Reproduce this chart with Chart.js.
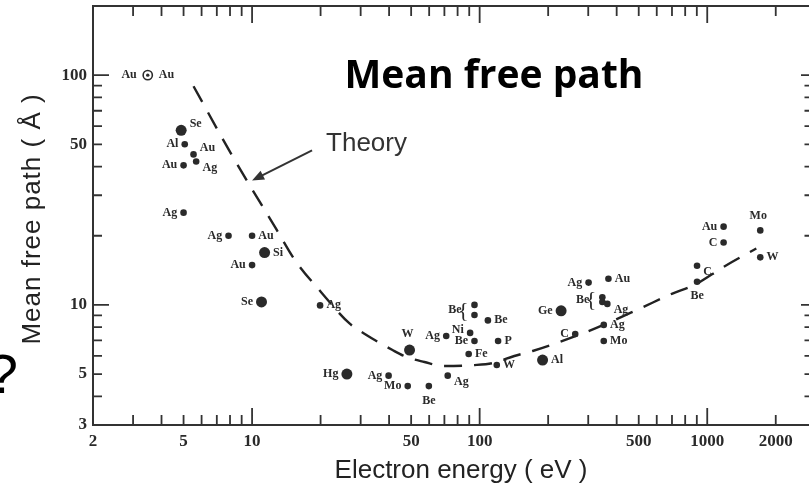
<!DOCTYPE html>
<html>
<head>
<meta charset="utf-8">
<script src="https://cdn.jsdelivr.net/npm/chart.js@4/dist/chart.umd.min.js"></script>
<style>
  html, body { margin: 0; padding: 0; background: #fff; }
</style>
</head>
<body>
<canvas id="mfpChart" width="809" height="495"></canvas>
<script>
// measured points: electron energy (eV) vs mean free path (Å)
const energies = [3.48, 4.88, 5.06, 5.53, 5.68, 5.0, 5.0, 7.88, 10.0, 11.35, 10.0, 11.0,
    19.9, 26.1, 39.8, 48.3, 49.2, 59.8, 72.4, 71.3, 90.8, 94.9, 94.9, 94.9, 108.7, 120.5,
    89.5, 118.9, 189, 228, 263, 301, 368, 346, 346, 364, 351, 351, 902, 902, 1180, 1180,
    1710, 1710];
const paths = [100, 57.5, 50.0, 45.2, 42.1, 40.5, 25.2, 20.0, 20.0, 16.9, 14.9, 10.3,
    9.95, 5.0, 4.92, 4.43, 6.36, 4.43, 4.92, 7.32, 7.55, 6.96, 10.0, 9.04, 8.56, 6.96,
    6.11, 5.47, 5.75, 9.42, 7.47, 12.5, 13.0, 10.8, 10.3, 10.1, 8.18, 6.96, 14.8, 12.6,
    21.9, 18.7, 21.1, 16.1];
const elements = ['Au', 'Se', 'Al', 'Au', 'Ag', 'Au', 'Ag', 'Ag', 'Au', 'Si', 'Au', 'Se',
    'Ag', 'Hg', 'Ag', 'Mo', 'W', 'Be', 'Ag', 'Ag', 'Ni', 'Be', 'Be', 'Be', 'Be', 'P',
    'Fe', 'W', 'Al', 'Ge', 'C', 'Ag', 'Au', 'Be', 'Be', 'Ag', 'Ag', 'Mo', 'C', 'Be',
    'Au', 'C', 'Mo', 'W'];

// where each element name sits around its dot
const labelSides = ['both', 'ru', 'l', 'ru', 'rd', 'l', 'l', 'l', 'r', 'r', 'l', 'l',
    'r', 'l', 'l', 'l', 't', 'b', 'rd', 'l', 'lu', 'l', 'brace', 'skip', 'r', 'r',
    'r', 'r', 'r', 'l', 'l', 'l', 'r', 'brace', 'skip', 'rd', 'r', 'r', 'rd', 'b',
    'l', 'l', 't', 'r'];
// dot style: small, big or ringed
const markerKinds = ['ring', 'big', 'small', 'small', 'small', 'small', 'small', 'small',
    'small', 'big', 'small', 'big', 'small', 'big', 'small', 'small', 'big', 'small',
    'small', 'small', 'small', 'small', 'small', 'small', 'small', 'small', 'small',
    'small', 'big', 'big', 'small', 'small', 'small', 'small', 'small', 'small', 'small',
    'small', 'small', 'small', 'small', 'small', 'small', 'small'];

// theory curve
const theoryEnergy = [5.53, 8.21, 12.8, 15.4, 20.2, 26.8, 31.8, 41.4, 47.7, 57.2, 68.7,
    94.9, 114, 142, 171, 224, 326, 513, 703, 878, 1189, 1643];
const theoryPath = [89.5, 44.3, 21.3, 15.7, 11.3, 8.3, 7.4, 6.36, 5.93, 5.64, 5.42,
    5.47, 5.58, 5.99, 6.30, 6.89, 7.94, 9.7, 11.2, 12.2, 14.7, 17.6];

const xTickValues = [2, 3, 4, 5, 6, 7, 8, 9, 10, 20, 30, 40, 50, 60, 70, 80, 90, 100,
    200, 300, 400, 500, 600, 700, 800, 900, 1000, 2000];
const xTickLabels = [2, 5, 10, 50, 100, 500, 1000, 2000];
const yTickValues = [3, 4, 5, 6, 7, 8, 9, 10, 20, 30, 40, 50, 60, 70, 80, 90, 100, 200];
const yTickLabels = [3, 5, 10, 50, 100];

const ink = '#2a2a2a';
const isDecade = v => Math.abs(Math.log10(v) - Math.round(Math.log10(v))) < 1e-9;

const dotRadius = k => k === 'big' ? 5.5 : (k === 'ring' ? 4.6 : 3.3);

// element names next to the dots, brace pairs and the ringed dot centre
const pointNames = {
    id: 'pointNames',
    afterDatasetsDraw(chart) {
        const {ctx} = chart;
        const pts = chart.getDatasetMeta(0).data;
        ctx.save();
        ctx.fillStyle = ink;
        ctx.font = "bold 12px 'Liberation Serif'";
        ctx.textBaseline = 'middle';
        pts.forEach((pt, i) => {
            const name = elements[i];
            const off = dotRadius(markerKinds[i]) + 3;
            const {x, y} = pt;
            switch (labelSides[i]) {
                case 'l':
                    ctx.textAlign = 'right'; ctx.fillText(name, x - off, y); break;
                case 'r':
                    ctx.textAlign = 'left'; ctx.fillText(name, x + off, y); break;
                case 'ru':
                    ctx.textAlign = 'left'; ctx.fillText(name, x + off, y - 6); break;
                case 'rd':
                    ctx.textAlign = 'left'; ctx.fillText(name, x + off, y + 6); break;
                case 'lu':
                    ctx.textAlign = 'right'; ctx.fillText(name, x - off, y - 3); break;
                case 't':
                    ctx.textAlign = 'center'; ctx.fillText(name, x - 2, y - off - 8); break;
                case 'b':
                    ctx.textAlign = 'center'; ctx.fillText(name, x, y + off + 8); break;
                case 'both':
                    ctx.textAlign = 'right'; ctx.fillText(name, x - 11, y);
                    ctx.textAlign = 'left'; ctx.fillText(name, x + 11, y);
                    break;
                case 'brace': {
                    const cy = (y + pts[i + 1].y) / 2;
                    ctx.font = "22px 'Liberation Serif'";
                    ctx.textAlign = 'right';
                    ctx.fillText('{', x - 6, cy + 1);
                    ctx.font = "bold 12px 'Liberation Serif'";
                    ctx.fillText(name, x - 13, cy);
                    break;
                }
            }
            if (markerKinds[i] === 'ring') {
                ctx.beginPath();
                ctx.arc(x, y, 1.7, 0, Math.PI * 2);
                ctx.fill();
            }
        });
        ctx.restore();
    }
};

// frame, inward ticks, titles and the "Theory" pointer
const frameAndText = {
    id: 'frameAndText',
    afterDraw(chart) {
        const {ctx, chartArea: {left, right, top, bottom}, scales: {x, y}} = chart;
        ctx.save();
        ctx.strokeStyle = '#333';
        ctx.lineWidth = 2;
        ctx.beginPath();
        ctx.moveTo(left - 1, top);
        ctx.lineTo(right, top);
        ctx.stroke();

        ctx.lineWidth = 1.8;
        ctx.beginPath();
        xTickValues.forEach(v => {
            const px = x.getPixelForValue(v);
            const len = isDecade(v) ? 17 : 10;
            ctx.moveTo(px, bottom); ctx.lineTo(px, bottom - len);
            ctx.moveTo(px, top); ctx.lineTo(px, top + len);
        });
        yTickValues.forEach(v => {
            const py = y.getPixelForValue(v);
            const len = isDecade(v) ? 16 : 9;
            ctx.moveTo(left, py); ctx.lineTo(left + len, py);
            ctx.moveTo(right, py); ctx.lineTo(right - len / 2, py);
        });
        ctx.stroke();

        // pointer to the theory curve
        const tipX = x.getPixelForValue(10);
        const tipY = y.getPixelForValue(34.8);
        const tailX = tipX + 60, tailY = tipY - 30;
        const ang = Math.atan2(tipY - tailY, tipX - tailX);
        ctx.strokeStyle = '#333';
        ctx.fillStyle = '#333';
        ctx.lineWidth = 2;
        ctx.beginPath();
        ctx.moveTo(tailX, tailY);
        ctx.lineTo(tipX - 8 * Math.cos(ang), tipY - 8 * Math.sin(ang));
        ctx.stroke();
        ctx.beginPath();
        ctx.moveTo(tipX, tipY);
        ctx.lineTo(tipX - 12 * Math.cos(ang) + 5 * Math.sin(ang), tipY - 12 * Math.sin(ang) - 5 * Math.cos(ang));
        ctx.lineTo(tipX - 12 * Math.cos(ang) - 5 * Math.sin(ang), tipY - 12 * Math.sin(ang) + 5 * Math.cos(ang));
        ctx.closePath();
        ctx.fill();

        ctx.fillStyle = '#333';
        ctx.font = "26px 'Liberation Sans'";
        ctx.textAlign = 'left';
        ctx.textBaseline = 'alphabetic';
        ctx.fillText('Theory', tailX + 14, tailY + 1);

        // axis titles
        ctx.fillStyle = '#222';
        ctx.textAlign = 'center';
        ctx.fillText('Electron energy ( eV )', 461, 478);
        ctx.save();
        ctx.translate(40, 219);
        ctx.rotate(-Math.PI / 2);
        ctx.letterSpacing = '1px';
        ctx.fillText('Mean free path ( Å )', 0, 0);
        ctx.restore();

        // heading
        ctx.fillStyle = '#000';
        ctx.font = "bold 39px 'Open Sans'";
        ctx.textAlign = 'center';
        ctx.fillText('Mean free path', 494, 88);

        ctx.font = "56px 'Liberation Sans'";
        ctx.textAlign = 'right';
        ctx.fillText('?', 18, 393);
        ctx.restore();
    }
};

const measured = energies.map((e, i) => ({x: e, y: paths[i]}));
const theory = theoryEnergy.map((e, i) => ({x: e, y: theoryPath[i]}));

const ctx = document.getElementById('mfpChart').getContext('2d');
new Chart(ctx, {
    type: 'scatter',
    data: {
        datasets: [
            {
                label: 'Measured',
                data: measured,
                pointRadius: markerKinds.map(dotRadius),
                pointBackgroundColor: markerKinds.map(k => k === 'ring' ? '#fff' : ink),
                pointBorderColor: ink,
                pointBorderWidth: markerKinds.map(k => k === 'ring' ? 1.6 : 0),
                showLine: false
            },
            {
                label: 'Theory',
                data: theory,
                showLine: true,
                borderColor: '#222',
                borderWidth: 2.4,
                borderDash: [18, 12],
                cubicInterpolationMode: 'monotone',
                pointRadius: 0,
                fill: false
            }
        ]
    },
    options: {
        responsive: false,
        animation: false,
        devicePixelRatio: 1,
        layout: {
            autoPadding: false,
            padding: {top: 6, left: 0, right: 0, bottom: 0}
        },
        plugins: {
            legend: {display: false},
            tooltip: {enabled: false},
            title: {display: false}
        },
        scales: {
            x: {
                type: 'logarithmic',
                position: 'bottom',
                min: 2,
                max: 2800,
                afterFit: s => {
                    s.height = 70;
                    s.paddingLeft = 0;
                    s.paddingRight = 0;
                },
                afterBuildTicks: s => { s.ticks = xTickValues.map(v => ({value: v})); },
                grid: {display: false, drawTicks: false},
                border: {display: true, color: '#333', width: 2},
                ticks: {
                    autoSkip: false,
                    maxRotation: 0,
                    padding: 6,
                    color: ink,
                    font: {family: 'Liberation Serif', size: 17, weight: 'bold'},
                    callback: v => xTickLabels.includes(v) ? String(v) : ''
                }
            },
            y: {
                type: 'logarithmic',
                min: 3,
                max: 200,
                afterFit: s => {
                    s.width = 93;
                    s.paddingTop = 0;
                    s.paddingBottom = 0;
                },
                afterBuildTicks: s => { s.ticks = yTickValues.map(v => ({value: v})); },
                grid: {display: false, drawTicks: false},
                border: {display: true, color: '#333', width: 2},
                ticks: {
                    autoSkip: false,
                    padding: 6,
                    color: ink,
                    font: {family: 'Liberation Serif', size: 17, weight: 'bold'},
                    callback: v => yTickLabels.includes(v) ? String(v) : ''
                }
            }
        }
    },
    plugins: [pointNames, frameAndText]
});
</script>
</body>
</html>
